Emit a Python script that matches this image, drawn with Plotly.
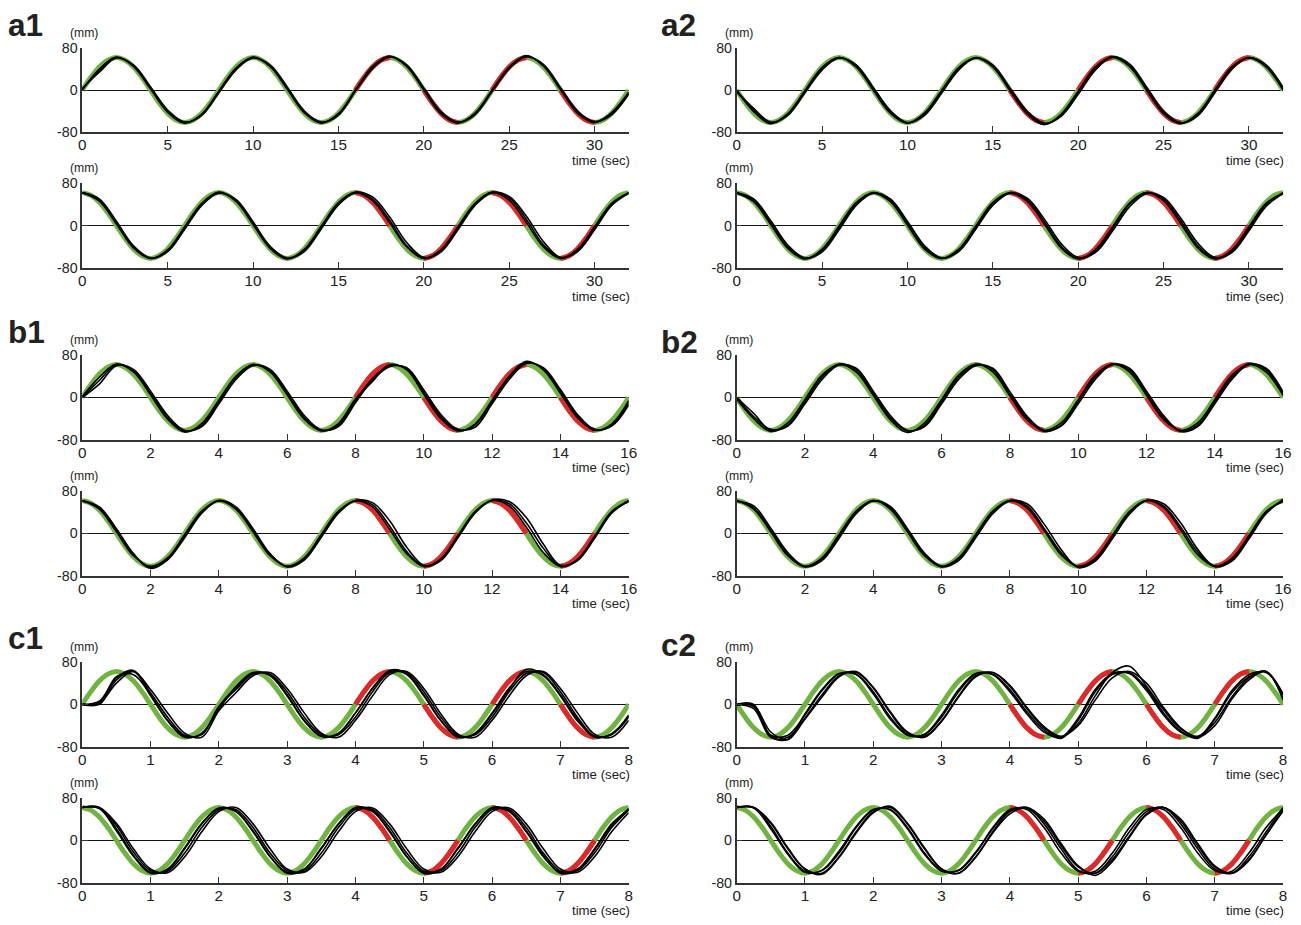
import numpy as np
import plotly.graph_objects as go

W, H = 1301, 925
# the photographed page maps figure pixel f to picture pixel OFF + S*f (measured)
SX, OFFX = 0.9917, 3.7
SY, OFFY = 925 / 941, 7.9

# one cycle of the target sine (16 samples / period, mm)
TARGET_SIN_CYCLE = [0, 24, 44, 57, 62, 57, 44, 24, 0, -24, -44, -57, -62, -57, -44, -24]

# durations (sec) and x tick labels per row
DURATION = {"a": 32, "b": 16, "c": 8}
XTICKS = {"a": [0, 5, 10, 15, 20, 25, 30],
          "b": [0, 2, 4, 6, 8, 10, 12, 14, 16],
          "c": [0, 1, 2, 3, 4, 5, 6, 7, 8]}
YTICKS = [-80, 0, 80]

# target waveform type for each subplot
TARGET_KIND = {
    "a1_top": "sin", "a1_bot": "cos", "a2_top": "-sin", "a2_bot": "cos",
    "b1_top": "sin", "b1_bot": "cos", "b2_top": "-sin", "b2_bot": "cos",
    "c1_top": "sin", "c1_bot": "cos", "c2_top": "-sin", "c2_bot": "cos",
}

# human tracking traces (mm), sampled every 1/8 period (33 samples over the trial)
a1_top = [
    [2, 36, 62, 47, 5, -40, -62, -47, -3, 40, 63, 46, 4, -41, -62, -46, 0, 45, 65, 46, 2, -43, -62, -45, -1, 44, 65, 47, 3, -44, -61, -44, -6],
    [0, 40, 63, 45, 2, -42, -63, -46, -2, 42, 62, 45, 2, -43, -63, -45, 0, 43, 64, 45, 0, -45, -63, -44, 0, 43, 66, 46, 1, -42, -62, -43, -4],
    [3, 34, 61, 48, 6, -38, -61, -48, -5, 38, 61, 48, 6, -40, -61, -48, -2, 41, 63, 48, 4, -41, -61, -47, -3, 41, 63, 49, 5, -40, -60, -47, -8],
]
a1_bot = [
    [62, 48, 6, -40, -62, -48, -5, 40, 63, 47, 5, -41, -62, -47, -4, 41, 63, 50, 10, -38, -62, -48, -5, 40, 63, 52, 12, -36, -61, -47, -5, 40, 62],
    [62, 46, 3, -42, -62, -46, -2, 42, 62, 46, 2, -43, -63, -45, -1, 43, 62, 47, 5, -40, -62, -46, -2, 42, 62, 48, 6, -40, -62, -45, -2, 42, 62],
    [62, 50, 8, -38, -61, -49, -7, 38, 61, 49, 7, -39, -61, -49, -6, 39, 62, 54, 16, -32, -60, -50, -8, 38, 62, 55, 18, -30, -60, -49, -8, 38, 61],
]
a2_top = [
    [-2, -38, -63, -46, -3, 41, 62, 46, 2, -42, -63, -45, -3, 41, 62, 46, 1, -44, -65, -48, -4, 42, 64, 47, 2, -43, -63, -46, -2, 43, 62, 46, 2],
    [0, -41, -64, -45, -1, 43, 62, 44, 0, -44, -63, -44, -1, 43, 61, 44, -1, -45, -66, -46, -2, 44, 62, 45, 0, -45, -64, -45, 0, 44, 61, 44, 0],
    [-3, -35, -61, -48, -5, 38, 61, 48, 5, -39, -62, -48, -6, 38, 61, 48, 4, -40, -63, -50, -8, 38, 63, 50, 6, -40, -62, -49, -5, 40, 62, 48, 4],
]
a2_bot = [
    [62, 47, 4, -41, -62, -47, -4, 41, 62, 47, 4, -42, -62, -46, -3, 42, 62, 49, 8, -39, -62, -49, -7, 40, 62, 50, 9, -38, -62, -48, -6, 40, 62],
    [61, 45, 2, -43, -63, -45, -1, 43, 61, 45, 1, -44, -62, -45, -1, 43, 61, 46, 4, -42, -63, -46, -3, 42, 62, 47, 4, -42, -63, -46, -2, 42, 61],
    [62, 50, 9, -37, -61, -50, -8, 38, 61, 50, 8, -38, -61, -49, -7, 38, 61, 52, 13, -34, -60, -51, -11, 35, 60, 53, 14, -33, -60, -51, -10, 36, 60],
]
b1_top = [
    [0, 32, 62, 50, 8, -38, -64, -52, -8, 38, 62, 50, 8, -38, -62, -52, -6, 36, 60, 54, 10, -36, -62, -52, -8, 38, 66, 54, 12, -35, -61, -52, -10],
    [2, 38, 63, 48, 5, -41, -65, -49, -5, 40, 62, 48, 5, -41, -63, -49, -3, 30, 62, 52, 6, -40, -63, -50, -5, 40, 68, 52, 8, -38, -62, -50, -6],
    [0, 25, 60, 53, 12, -34, -62, -55, -12, 34, 60, 53, 12, -34, -61, -55, -10, 33, 58, 56, 14, -32, -60, -56, -12, 34, 64, 56, 15, -32, -60, -54, -14],
]
b1_bot = [
    [62, 48, 6, -40, -64, -48, -5, 40, 62, 48, 6, -40, -62, -48, -5, 40, 62, 54, 14, -34, -62, -50, -6, 40, 62, 56, 20, -28, -62, -50, -8, 40, 62],
    [62, 50, 9, -38, -66, -50, -8, 38, 62, 50, 9, -38, -63, -50, -7, 38, 62, 58, 24, -26, -60, -51, -8, 38, 63, 60, 30, -20, -60, -51, -9, 38, 61],
    [61, 46, 3, -42, -62, -46, -2, 42, 61, 46, 3, -42, -62, -46, -2, 42, 61, 50, 8, -38, -62, -48, -4, 41, 62, 52, 12, -36, -62, -49, -5, 41, 60],
]
b2_top = [
    [0, -30, -62, -52, -8, 38, 63, 52, 8, -38, -63, -52, -8, 38, 62, 52, 6, -38, -64, -52, -8, 38, 62, 52, 8, -38, -63, -52, -8, 38, 64, 52, 8],
    [-3, -40, -64, -48, -4, 42, 62, 48, 4, -42, -66, -48, -4, 42, 63, 48, 3, -42, -62, -48, -4, 42, 63, 48, 4, -42, -62, -48, -4, 42, 62, 48, 4],
    [0, -36, -60, -54, -12, 34, 61, 55, 12, -34, -62, -55, -12, 34, 60, 55, 11, -35, -62, -54, -12, 34, 62, 55, 12, -34, -64, -55, -12, 34, 62, 55, 10],
]
b2_bot = [
    [62, 48, 6, -40, -63, -48, -5, 40, 62, 48, 5, -40, -63, -48, -5, 40, 62, 52, 10, -36, -63, -50, -6, 40, 62, 52, 12, -35, -62, -50, -6, 40, 62],
    [60, 52, 10, -36, -62, -51, -9, 37, 61, 51, 9, -37, -62, -51, -8, 37, 61, 56, 18, -30, -64, -52, -10, 36, 62, 56, 20, -30, -62, -52, -10, 37, 64],
    [62, 46, 3, -42, -62, -46, -2, 42, 62, 46, 3, -42, -62, -46, -2, 42, 62, 48, 6, -40, -62, -47, -4, 41, 62, 49, 7, -40, -62, -47, -4, 41, 60],
]
c1_top = [
    [0, 3, 52, 56, 18, -31, -62, -54, -10, 34, 60, 54, 16, -31, -60, -54, -16, 31, 62, 56, 16, -31, -62, -54, -16, 31, 62, 54, 16, -31, -60, -56, -20],
    [0, 0, 46, 62, 22, -24, -58, -57, -5, 28, 57, 57, 24, -24, -57, -57, -24, 24, 60, 60, 24, -24, -58, -57, -24, 24, 58, 60, 24, -24, -60, -57, -24],
    [0, 6, 50, 64, 16, -30, -60, -56, -4, 32, 58, 56, 18, -30, -60, -55, -16, 30, 64, 58, 18, -30, -60, -56, -18, 28, 66, 56, 18, -28, -62, -55, -22],
    [0, 2, 40, 62, 28, -16, -54, -62, -12, 22, 54, 60, 30, -16, -54, -62, -30, 16, 56, 62, 30, -18, -56, -62, -30, 16, 54, 62, 30, -16, -56, -62, -30],
]
c1_bot = [
    [62, 62, 22, -28, -60, -56, -16, 31, 60, 54, 16, -31, -60, -54, -16, 31, 60, 54, 16, -31, -60, -54, -16, 31, 60, 54, 16, -31, -60, -54, -16, 31, 58],
    [62, 61, 28, -22, -57, -58, -24, 24, 57, 58, 24, -24, -57, -58, -24, 24, 58, 58, 24, -24, -58, -57, -24, 24, 58, 58, 24, -24, -58, -57, -24, 24, 57],
    [62, 60, 18, -30, -62, -54, -14, 32, 61, 55, 18, -30, -62, -55, -14, 30, 62, 56, 18, -30, -62, -55, -14, 30, 62, 56, 18, -28, -62, -56, -18, 28, 60],
    [62, 62, 32, -16, -54, -61, -31, 16, 54, 62, 31, -16, -54, -60, -31, 16, 54, 61, 31, -16, -54, -60, -31, 16, 54, 61, 31, -16, -54, -60, -31, 16, 52],
]
c2_top = [
    [0, -4, -58, -58, -20, 26, 57, 57, 24, -24, -57, -57, -24, 24, 57, 57, 28, -14, -48, -64, -30, 24, 56, 60, 30, -16, -50, -64, -28, 22, 52, 62, 18],
    [0, -8, -62, -62, -26, 18, 54, 60, 31, -16, -54, -60, -31, 16, 54, 60, 34, -8, -44, -62, -36, 16, 60, 72, 34, -10, -46, -60, -34, 14, 50, 62, 12],
    [-2, -2, -52, -66, -18, 28, 58, 56, 20, -28, -58, -56, -20, 28, 58, 56, 24, -18, -52, -62, -26, 28, 58, 58, 26, -20, -52, -62, -26, 26, 56, 60, 20],
    [0, 0, -60, -66, -28, 14, 52, 62, 32, -14, -52, -62, -32, 14, 52, 60, 36, -6, -42, -60, -40, 8, 50, 62, 40, -6, -44, -62, -40, 10, 46, 62, 8],
]
c2_bot = [
    [62, 62, 26, -24, -58, -57, -24, 24, 57, 58, 24, -24, -57, -57, -24, 24, 58, 58, 24, -24, -58, -58, -24, 24, 58, 58, 24, -24, -57, -58, -24, 24, 60],
    [62, 62, 32, -16, -54, -62, -31, 16, 54, 62, 31, -16, -54, -62, -31, 16, 54, 62, 31, -16, -56, -62, -31, 16, 54, 62, 31, -16, -54, -62, -31, 16, 62],
    [62, 61, 22, -26, -60, -56, -20, 26, 58, 57, 22, -26, -58, -56, -22, 22, 56, 60, 36, -10, -50, -62, -36, 8, 50, 62, 36, -10, -50, -62, -36, 10, 58],
    [62, 62, 34, -14, -54, -64, -32, 14, 52, 64, 32, -14, -54, -62, -32, 14, 50, 62, 40, -6, -48, -66, -40, 6, 48, 62, 40, -6, -48, -62, -38, 10, 55],
]

TRACES = {"a1_top": a1_top, "a1_bot": a1_bot, "a2_top": a2_top, "a2_bot": a2_bot,
          "b1_top": b1_top, "b1_bot": b1_bot, "b2_top": b2_top, "b2_bot": b2_bot,
          "c1_top": c1_top, "c1_bot": c1_bot, "c2_top": c2_top, "c2_bot": c2_bot}

# ---------------- layout geometry (picture pixels) ----------------
COL_PX = {"1": (82, 629), "2": (737, 1284)}
ROW_PX = {("a", "top"): (48, 132), ("a", "bot"): (183, 268),
          ("b", "top"): (355, 440), ("b", "bot"): (491, 576),
          ("c", "top"): (662, 747), ("c", "bot"): (798, 883)}
LABEL_POS = {"a1": (6, 25), "a2": (659, 25), "b1": (6, 332), "b2": (659, 342),
             "c1": (6, 638), "c2": (659, 645)}

GREEN = "#6fb43f"
RED = "#e3262a"
FONT = "Liberation Sans, Arial, sans-serif"
FS = 1 / SY  # font compensation


def px_x(p):
    return ((p - OFFX) / SX) / W


def px_y(p):
    return 1 - ((p - OFFY) / SY) / H


fig = go.Figure()
layout = dict(width=W, height=H, margin=dict(l=0, r=0, t=0, b=0, pad=0), autosize=False,
              paper_bgcolor="white", plot_bgcolor="white", showlegend=False)
annotations = []

order = ["a1_top", "a1_bot", "a2_top", "a2_bot", "b1_top", "b1_bot",
         "b2_top", "b2_bot", "c1_top", "c1_bot", "c2_top", "c2_bot"]

for i, key in enumerate(order, start=1):
    panel, pos = key.split("_")
    row, col = panel[0], panel[1]
    T = DURATION[row]
    x0, x1 = COL_PX[col]
    y0, y1 = ROW_PX[(row, pos)]
    xa = "xaxis" if i == 1 else f"xaxis{i}"
    ya = "yaxis" if i == 1 else f"yaxis{i}"
    xr = "x" if i == 1 else f"x{i}"
    yr = "y" if i == 1 else f"y{i}"

    # target
    cyc = list(TARGET_SIN_CYCLE)
    kind = TARGET_KIND[key]
    if kind == "cos":
        cyc = cyc[4:] + cyc[:4]
    elif kind == "-sin":
        cyc = [-v for v in cyc]
    target = cyc * 4 + [cyc[0]]
    tx = np.linspace(0, T, len(target))
    fig.add_trace(go.Scatter(x=tx, y=target, mode="lines", xaxis=xr, yaxis=yr,
                             line=dict(color=GREEN, width=5, shape="spline"), hoverinfo="skip"))
    # red segments: second half, first quarter of each half cycle
    n = len(target) - 1
    half = n // 2
    rx, ry = [], []
    for k in range(4):
        s = half + 8 * k
        idx = range(s, s + 5)
        rx += [tx[j] for j in idx] + [None]
        ry += [target[j] for j in idx] + [None]
    fig.add_trace(go.Scatter(x=rx, y=ry, mode="lines", xaxis=xr, yaxis=yr, connectgaps=False,
                             line=dict(color=RED, width=5, shape="spline"), hoverinfo="skip"))
    # human traces
    for tr in TRACES[key]:
        bx = np.linspace(0, T, len(tr))
        fig.add_trace(go.Scatter(x=bx, y=tr, mode="lines", xaxis=xr, yaxis=yr,
                                 line=dict(color="black", width=1.6, shape="spline"), hoverinfo="skip"))

    layout[xa] = dict(domain=[px_x(x0), px_x(x1)], range=[0, T], anchor=yr,
                      showline=True, linecolor="#333", linewidth=1.5, mirror=False,
                      ticks="inside", ticklen=6, tickwidth=1.3, tickcolor="#333",
                      tickvals=XTICKS[row], ticktext=[str(v) for v in XTICKS[row]],
                      tickfont=dict(family=FONT, size=15 * FS, color="#222"),
                      ticklabelstandoff=-2,
                      showgrid=False, zeroline=False, fixedrange=True)
    layout[ya] = dict(domain=[px_y(y1), px_y(y0)], range=[-80, 80], anchor=xr,
                      showline=True, linecolor="#333", linewidth=1.5,
                      ticks="inside", ticklen=6, tickwidth=1.3, tickcolor="#333",
                      tickvals=YTICKS, ticktext=[str(v) for v in YTICKS],
                      tickfont=dict(family=FONT, size=14 * FS, color="#222"),
                      showgrid=False, zeroline=True, zerolinecolor="#111", zerolinewidth=1.3,
                      fixedrange=True)

    annotations.append(dict(text="(mm)", xref="paper", yref="paper", x=px_x(x0 + 2), y=px_y(y0 - 15),
                            xanchor="center", yanchor="middle", showarrow=False,
                            font=dict(family=FONT, size=12 * FS, color="#222")))
    annotations.append(dict(text="time (sec)", xref="paper", yref="paper", x=px_x(x1 + 3), y=px_y(y1 + 28),
                            xanchor="right", yanchor="middle", showarrow=False,
                            font=dict(family=FONT, size=13 * FS, color="#222")))

for lab, (px, py) in LABEL_POS.items():
    annotations.append(dict(text=f"<b>{lab}</b>", xref="paper", yref="paper", x=px_x(px), y=px_y(py),
                            xanchor="left", yanchor="middle", showarrow=False,
                            font=dict(family=FONT, size=31 * FS, color="#222")))

layout["annotations"] = annotations
fig.update_layout(**layout)
fig.write_html("out.html")
